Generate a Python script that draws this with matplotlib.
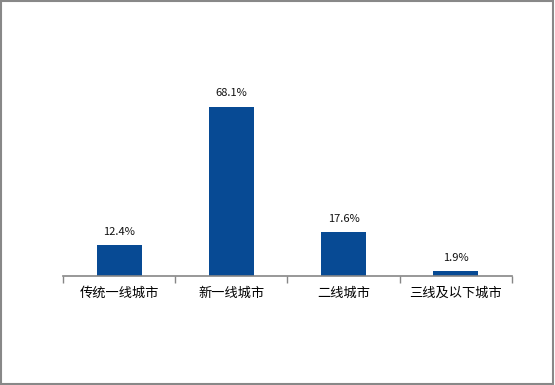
import matplotlib.pyplot as plt
from matplotlib.patches import Rectangle

plt.rcParams['font.family'] = ['Noto Sans CJK SC', 'DejaVu Sans']

categories = ["传统一线城市", "新一线城市", "二线城市", "三线及以下城市"]
shares = [12.4, 68.1, 17.6, 1.9]

fig = plt.figure(figsize=(5.55, 3.85), dpi=100)
ax = fig.add_axes([0.1135, 0.2831, 0.809, 0.5153])

x = range(len(categories))
ax.bar(x, shares, width=0.4, color="#074A94")

for xi, v in zip(x, shares):
    ax.text(xi, v + 3.5, f"{v}%", ha="center", va="bottom", fontsize=8, color="#111111")

ax.set_xlim(-0.5, len(categories) - 0.5)
ax.set_ylim(0, 80)
ax.set_yticks([])
ax.set_xticks([i - 0.5 for i in range(len(categories) + 1)])
ax.set_xticklabels([])
ax.set_xticks(list(x), minor=True)
ax.set_xticklabels(categories, minor=True, fontsize=9.5)
ax.tick_params(axis="x", which="major", length=5, color="#868686", width=1)
ax.tick_params(axis="x", which="minor", length=0, pad=8)

for side in ["top", "right", "left"]:
    ax.spines[side].set_visible(False)
ax.spines["bottom"].set_color("#868686")
ax.spines["bottom"].set_linewidth(1.2)

# outer frame
fig.patches.append(Rectangle((0.001, 0.002), 0.996, 0.996, transform=fig.transFigure,
                             fill=False, edgecolor="#888888", linewidth=1.5))

plt.savefig("out.png", dpi=100)
